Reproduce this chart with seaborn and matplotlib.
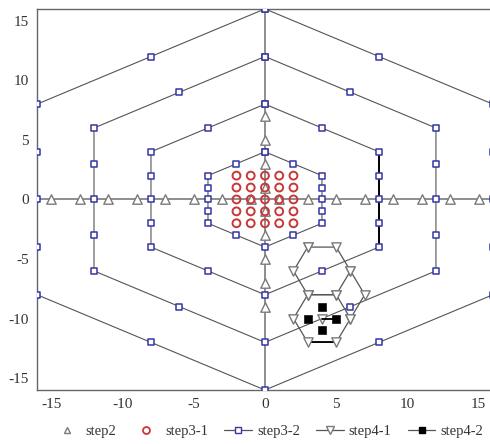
import pandas as pd
import matplotlib
matplotlib.use('Agg')
import matplotlib.pyplot as plt
from matplotlib.lines import Line2D
import seaborn as sns

# step2: cross samples along both axes
step2_xaxis = [-15, -13, -11, -9, -7, -5, -3, -1, 1, 3, 5, 7, 9, 11, 13, 15]
step2_yaxis = [7, 5, 3, 1, -1, -3, -5, -7, -9]

# step3-1: raster around the centre
step31_cols = [-2, -1, 0, 1, 2]
step31_rows = [-2, -1, 0, 1, 2]

# step3-2: four hexagon rings, point by point (closed)
hex4_x = [0, 2, 4, 4, 4, 4, 4, 2, 0, -2, -4, -4, -4, -4, -4, -2, 0]
hex4_y = [4, 3, 2, 1, 0, -1, -2, -3, -4, -3, -2, -1, 0, 1, 2, 3, 4]
hex8_x = [0, 4, 8, 8, 8, 8, 8, 4, 0, -4, -8, -8, -8, -8, -8, -4, 0]
hex8_y = [8, 6, 4, 2, 0, -2, -4, -6, -8, -6, -4, -2, 0, 2, 4, 6, 8]
hex12_x = [0, 6, 12, 12, 12, 12, 12, 6, 0, -6, -12, -12, -12, -12, -12, -6, 0]
hex12_y = [12, 9, 6, 3, 0, -3, -6, -9, -12, -9, -6, -3, 0, 3, 6, 9, 12]
hex16_x = [0, 8, 16, 16, 16, 16, 16, 8, 0, -8, -16, -16, -16, -16, -16, -8, 0]
hex16_y = [16, 12, 8, 4, 0, -4, -8, -12, -16, -12, -8, -4, 0, 4, 8, 12, 16]

# darker edge on the right side of the 8-ring
edge8_x = [8, 8]
edge8_y = [4, -4]

# step4-1: two stacked hexagons plus a side link
s41_a_x = [3, 5, 6, 5, 3, 2, 3]
s41_a_y = [-4, -4, -6, -8, -8, -6, -4]
s41_b_x = [3, 5, 6, 5, 3, 2, 3]
s41_b_y = [-8, -8, -10, -12, -12, -10, -8]
s41_c_x = [6, 7, 6]
s41_c_y = [-6, -8, -10]
s41_mid_x = [4]
s41_mid_y = [-10]

# step4-2: small diamond around the best point
s42_x = [4, 3, 5, 4]
s42_y = [-9, -10, -10, -11]
s42_line_x = [4, 5]
s42_line_y = [-10, -10]
s42_edge_x = [3, 5]
s42_edge_y = [-12, -12]

BLUE = '#3535a8'
RED = '#c83838'
GRAY = '#7a7a7a'
LINE = '#555555'

sns.set_style('white')
plt.rcParams['font.family'] = ['Liberation Serif', 'DejaVu Serif']
plt.rcParams['axes.unicode_minus'] = False

rings = pd.concat([
    pd.DataFrame({'x': hx, 'y': hy, 'ring': name})
    for name, hx, hy in [('r4', hex4_x, hex4_y), ('r8', hex8_x, hex8_y),
                         ('r12', hex12_x, hex12_y), ('r16', hex16_x, hex16_y)]
], ignore_index=True)

s41 = pd.concat([
    pd.DataFrame({'x': px, 'y': py, 'part': name})
    for name, px, py in [('a', s41_a_x, s41_a_y), ('b', s41_b_x, s41_b_y),
                         ('c', s41_c_x, s41_c_y)]
], ignore_index=True)

step2 = pd.DataFrame({
    'x': step2_xaxis + [0] * len(step2_yaxis),
    'y': [0] * len(step2_xaxis) + step2_yaxis,
})
step31 = pd.DataFrame([(c, r) for r in step31_rows for c in step31_cols], columns=['x', 'y'])

fig = plt.figure(figsize=(4.9, 4.44), dpi=100)
ax = fig.add_axes([0.0755, 0.1216, 0.9305, 0.8584])

ax.axhline(0, color=GRAY, lw=1.2, zorder=1)
ax.axvline(0, color=GRAY, lw=1.2, zorder=1)

# step3-2 rings
sns.lineplot(data=rings, x='x', y='y', units='ring', estimator=None, sort=False,
             color=LINE, lw=0.8, ax=ax, zorder=2, legend=False)
ax.plot(edge8_x, edge8_y, color='black', lw=1.4, zorder=2)
sns.scatterplot(data=rings, x='x', y='y', marker='s', s=24, facecolor='white',
                edgecolor=BLUE, linewidth=1.1, ax=ax, zorder=4, legend=False)

# step4-1
sns.lineplot(data=s41, x='x', y='y', units='part', estimator=None, sort=False,
             color=LINE, lw=0.9, ax=ax, zorder=3, legend=False)
sns.scatterplot(data=s41, x='x', y='y', marker='v', s=45, facecolor='white',
                edgecolor=GRAY, linewidth=1.0, ax=ax, zorder=5, legend=False)
sns.scatterplot(x=s41_mid_x, y=s41_mid_y, marker='v', s=45, facecolor='white',
                edgecolor=GRAY, linewidth=1.0, ax=ax, zorder=5, legend=False)

# step4-2
ax.plot(s42_line_x, s42_line_y, color='black', lw=1.3, zorder=5)
ax.plot(s42_edge_x, s42_edge_y, color='black', lw=1.3, zorder=3)
sns.scatterplot(x=s42_x, y=s42_y, marker='s', s=30, color='black',
                edgecolor='black', ax=ax, zorder=6, legend=False)

# step2 and step3-1
sns.scatterplot(data=step2, x='x', y='y', marker='^', s=46, facecolor='white',
                edgecolor=GRAY, linewidth=1.0, ax=ax, zorder=5, legend=False)
sns.scatterplot(data=step31, x='x', y='y', marker='o', s=32, facecolor='none',
                edgecolor=RED, linewidth=1.4, ax=ax, zorder=6, legend=False)

ax.set_xlim(-16, 16)
ax.set_ylim(-16, 16)
ax.set_xticks([-15, -10, -5, 0, 5, 10, 15])
ax.set_yticks([-15, -10, -5, 0, 5, 10, 15])
ax.set_xlabel('')
ax.set_ylabel('')
ax.tick_params(length=0, labelsize=11, colors='#333333', pad=6)
for side in ['left', 'bottom', 'top']:
    ax.spines[side].set_color('#666666')
    ax.spines[side].set_linewidth(1.0)
ax.spines['right'].set_visible(False)

handles = [
    Line2D([], [], ls='none', marker='^', mfc='none', mec=GRAY, ms=5),
    Line2D([], [], ls='none', marker='o', mfc='none', mec=RED, ms=5, mew=1.3),
    Line2D([], [], ls='-', color=LINE, lw=0.9, marker='s', mfc='white', mec=BLUE, ms=4),
    Line2D([], [], ls='-', color=LINE, lw=0.9, marker='v', mfc='white', mec=GRAY, ms=6),
    Line2D([], [], ls='-', color=LINE, lw=0.9, marker='s', mfc='black', mec='black', ms=5),
]
labels = ['step2', 'step3-1', 'step3-2', 'step4-1', 'step4-2']
fig.legend(handles, labels, loc='center', bbox_to_anchor=(0.547, 0.029), ncol=5,
           frameon=False, fontsize=10.5, handlelength=1.9, handletextpad=0.35,
           columnspacing=1.1, labelcolor='#333333', borderpad=0.2)

fig.savefig('out.png', dpi=100)
